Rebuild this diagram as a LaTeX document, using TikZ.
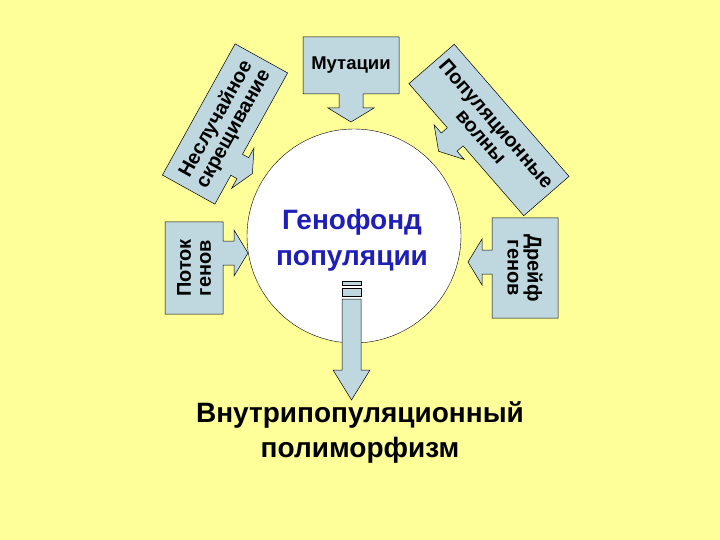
\documentclass[tikz,border=0pt]{standalone}
\usepackage{fontspec}
\setmainfont{Liberation Sans}
\begin{document}
\begin{tikzpicture}[x=1pt,y=1pt,
  cbox/.style={draw=black,fill=calfill,line width=0.5pt},
  ctext/.style={font=\bfseries\fontsize{20}{20}\selectfont,align=center,text=black,inner sep=0pt}]
\definecolor{bgy}{HTML}{FFFF99}
\definecolor{calfill}{HTML}{BFD8DF}
\definecolor{gblue}{HTML}{1F1FB8}
\fill[bgy] (0,0) rectangle (720,-540);
\useasboundingbox (0,0) rectangle (720,-540);
% #1 cx, #2 cy, #3 angle, #4 W, #5 H, #6 offset, #7 stem, #8 head, #9 text
\newcommand\callout[9]{%
\begin{scope}[shift={(#1,-#2)},rotate=#3]
\draw[cbox] ({-#4/2},{#5/2}) -- ({#4/2},{#5/2}) -- ({#4/2},{-#5/2})
 -- ({#6+12},{-#5/2}) -- ({#6+12},{-#5/2-#7}) -- ({#6+23},{-#5/2-#7})
 -- ({#6},{-#5/2-#7-#8}) -- ({#6-23},{-#5/2-#7}) -- ({#6-12},{-#5/2-#7})
 -- ({#6-12},{-#5/2}) -- ({-#4/2},{-#5/2}) -- cycle;
\node[ctext,rotate=#3] at (0,0) {#9};
\end{scope}}
\node[circle,draw=black,fill=white,minimum size=214pt,inner sep=0pt] (c) at (354,-236) {};
\node[font=\bfseries\fontsize{28}{36}\selectfont,text=gblue,align=center] (g) at (352,-240) {Генофонд\\популяции};
\callout{351}{65.5}{0}{96}{57}{0}{14}{14}{\fontsize{18.5}{19}\selectfont Мутации}
\callout{225}{124}{61}{150}{60}{-30}{7}{11}{Неслучайное\\скрещивание}
\callout{489}{130}{-49}{175}{60}{-17}{8}{14}{Популяционные\\волны}
\callout{194}{268}{90}{92}{58}{15}{11}{14}{Поток\\генов}
\callout{525}{268}{-90}{100}{66}{-6}{10}{14}{Дрейф\\генов}
% bottom arrow
\draw[cbox] (342,-281) rectangle (361,-285);
\draw[cbox] (342,-288) rectangle (361,-296);
\draw[cbox] (342,-299) -- (361,-299) -- (361,-370) -- (370,-370) -- (351.5,-400)
  -- (333,-370) -- (342,-370) -- cycle;
\node[font=\bfseries\fontsize{28}{35}\selectfont,align=center] (p) at (360,-432) {Внутрипопуляционный\\полиморфизм};
\end{tikzpicture}
\end{document}
